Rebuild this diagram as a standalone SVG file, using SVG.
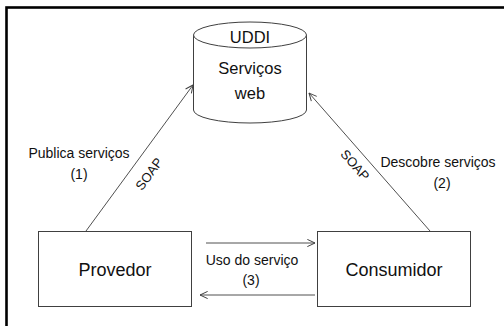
<svg xmlns="http://www.w3.org/2000/svg" width="504" height="326" viewBox="0 0 504 326">
  <defs>
    <marker id="arrow" viewBox="0 0 10 10" refX="9.5" refY="5" markerWidth="9" markerHeight="9" markerUnits="userSpaceOnUse" orient="auto">
      <path d="M1,1 L9.5,5 L1,9" fill="none" stroke="#404040" stroke-width="1.1"/>
    </marker>
    <style>
      text { font-family: "Liberation Sans", Arial, sans-serif; fill: #111; }
      .shape { fill: #fff; stroke: #404040; stroke-width: 1; }
      .conn { fill: none; stroke: #505050; stroke-width: 1; marker-end: url(#arrow); }
      .big { font-size: 18px; text-anchor: middle; }
      .db { font-size: 16.5px; text-anchor: middle; }
      .lbl { font-size: 14px; text-anchor: middle; }
      .soap { font-size: 13px; text-anchor: middle; }
    </style>
  </defs>

  <rect x="0" y="0" width="504" height="326" fill="#fff"/>
  <!-- outer frame -->
  <rect x="6.5" y="7.5" width="620" height="400" fill="none" stroke="#000" stroke-width="2.6"/>

  <!-- connectors -->
  <g id="connectors">
    <line class="conn" x1="86" y1="231" x2="193" y2="85"/>
    <line class="conn" x1="430" y1="231" x2="309" y2="93"/>
    <line class="conn" x1="206" y1="243" x2="315" y2="243"/>
    <line class="conn" x1="315" y1="295" x2="200" y2="295"/>
    <text class="soap" transform="translate(149,174) rotate(-53.8)" dy="0.35em">SOAP</text>
    <text class="soap" transform="translate(355,165) rotate(48.8)" dy="0.35em">SOAP</text>
    <text class="lbl" x="79" y="158">Publica serviços</text>
    <text class="lbl" x="79" y="179">(1)</text>
    <text class="lbl" x="438" y="167">Descobre serviços</text>
    <text class="lbl" x="442" y="188">(2)</text>
    <text class="lbl" x="252" y="265">Uso do serviço</text>
    <text class="lbl" x="251" y="285">(3)</text>
  </g>

  <!-- UDDI registry -->
  <g id="uddi">
    <path class="shape" d="M193.5,35 L193.5,110 A56.5,13 0 0 0 306.5,110 L306.5,35"/>
    <ellipse class="shape" cx="250" cy="35" rx="56.5" ry="13"/>
    <text class="db" x="250" y="43">UDDI</text>
    <text class="db" x="250" y="74">Serviços</text>
    <text class="db" x="250" y="99">web</text>
  </g>

  <!-- provider -->
  <g id="provedor">
    <rect class="shape" x="38.5" y="231.5" width="153" height="75"/>
    <text class="big" x="115" y="276">Provedor</text>
  </g>

  <!-- consumer -->
  <g id="consumidor">
    <rect class="shape" x="317.5" y="231.5" width="153" height="75"/>
    <text class="big" x="394" y="276">Consumidor</text>
  </g>
</svg>
